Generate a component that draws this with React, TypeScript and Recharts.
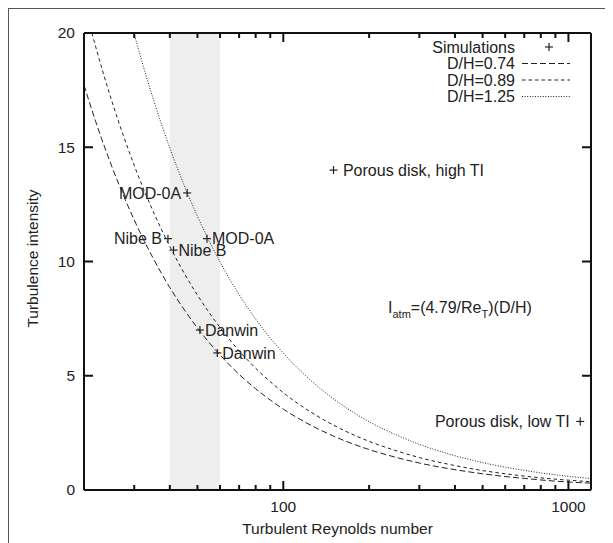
import React from 'react';
import { ComposedChart, Line, Scatter, XAxis, YAxis, ReferenceArea } from 'recharts';

// Axis ticks
const reTicks = [20, 30, 40, 50, 60, 70, 80, 90, 100, 200, 300, 400, 500, 600, 700, 800, 900, 1000];
const reMajor = [100, 1000];
const tiTicks = [0, 5, 10, 15, 20];
const reDomain = [20, 1200];
const tiDomain = [0, 20];

// Shaded Reynolds-number band
const bandRe = [40, 60];

// I_atm = (4.79/Re_T)(D/H), in percent
const curve074 = [
  { re: 20, ti: 17.72 }, { re: 22, ti: 16.11 }, { re: 25, ti: 14.18 }, { re: 30, ti: 11.82 },
  { re: 35, ti: 10.13 }, { re: 40, ti: 8.86 }, { re: 45, ti: 7.88 }, { re: 50, ti: 7.09 },
  { re: 60, ti: 5.91 }, { re: 70, ti: 5.06 }, { re: 80, ti: 4.43 }, { re: 90, ti: 3.94 },
  { re: 100, ti: 3.54 }, { re: 120, ti: 2.95 }, { re: 150, ti: 2.36 }, { re: 200, ti: 1.77 },
  { re: 250, ti: 1.42 }, { re: 300, ti: 1.18 }, { re: 400, ti: 0.89 }, { re: 500, ti: 0.71 },
  { re: 600, ti: 0.59 }, { re: 700, ti: 0.51 }, { re: 800, ti: 0.44 }, { re: 1000, ti: 0.35 },
  { re: 1200, ti: 0.3 },
];

const curve089 = [
  { re: 21.32, ti: 20.0 }, { re: 22, ti: 19.38 }, { re: 25, ti: 17.05 }, { re: 30, ti: 14.21 },
  { re: 35, ti: 12.18 }, { re: 40, ti: 10.66 }, { re: 45, ti: 9.47 }, { re: 50, ti: 8.53 },
  { re: 60, ti: 7.11 }, { re: 70, ti: 6.09 }, { re: 80, ti: 5.33 }, { re: 90, ti: 4.74 },
  { re: 100, ti: 4.26 }, { re: 120, ti: 3.55 }, { re: 150, ti: 2.84 }, { re: 200, ti: 2.13 },
  { re: 250, ti: 1.71 }, { re: 300, ti: 1.42 }, { re: 400, ti: 1.07 }, { re: 500, ti: 0.85 },
  { re: 600, ti: 0.71 }, { re: 700, ti: 0.61 }, { re: 800, ti: 0.53 }, { re: 1000, ti: 0.43 },
  { re: 1200, ti: 0.36 },
];

const curve125 = [
  { re: 29.94, ti: 20.0 }, { re: 32, ti: 18.71 }, { re: 35, ti: 17.11 }, { re: 40, ti: 14.97 },
  { re: 45, ti: 13.31 }, { re: 50, ti: 11.98 }, { re: 60, ti: 9.98 }, { re: 70, ti: 8.55 },
  { re: 80, ti: 7.48 }, { re: 90, ti: 6.65 }, { re: 100, ti: 5.99 }, { re: 120, ti: 4.99 },
  { re: 150, ti: 3.99 }, { re: 200, ti: 2.99 }, { re: 250, ti: 2.4 }, { re: 300, ti: 2.0 },
  { re: 400, ti: 1.5 }, { re: 500, ti: 1.2 }, { re: 600, ti: 1.0 }, { re: 700, ti: 0.86 },
  { re: 800, ti: 0.75 }, { re: 1000, ti: 0.6 }, { re: 1200, ti: 0.5 },
];

// Simulated cases
const simulations = [
  { re: 46, ti: 13, label: 'MOD-0A', side: 'left' },
  { re: 39.4, ti: 11, label: 'Nibe B', side: 'left' },
  { re: 54, ti: 11, label: 'MOD-0A', side: 'right' },
  { re: 41.2, ti: 10.5, label: 'Nibe B', side: 'right' },
  { re: 51, ti: 7, label: 'Danwin', side: 'right' },
  { re: 58.7, ti: 6, label: 'Danwin', side: 'right' },
  { re: 150, ti: 14, label: ' Porous disk, high TI', side: 'right' },
  { re: 1100, ti: 3, label: 'Porous disk, low TI ', side: 'left' },
];

const INK = '#222';
const FONT = '"Liberation Sans", Arial, Helvetica, sans-serif';
const MAJOR = 9;
const MINOR = 5;

const curves = [
  { name: 'D/H=0.74', data: curve074, dash: '6 3' },
  { name: 'D/H=0.89', data: curve089, dash: '3.5 3' },
  { name: 'D/H=1.25', data: curve125, dash: '1 1.6' },
];

// Inward tick marks on all four sides of the frame, placed through the axis scales
const tickRows = [
  { id: 'bottom', data: reTicks.map((re) => ({ re, ti: tiDomain[0], major: reMajor.includes(re) })), ux: 0, uy: -1 },
  { id: 'top', data: reTicks.map((re) => ({ re, ti: tiDomain[1], major: reMajor.includes(re) })), ux: 0, uy: 1 },
  { id: 'left', data: tiTicks.map((ti) => ({ re: reDomain[0], ti, major: true })), ux: 1, uy: 0 },
  { id: 'right', data: tiTicks.map((ti) => ({ re: reDomain[1], ti, major: true })), ux: -1, uy: 0 },
];

function TickMark(props: any) {
  const { cx, cy, payload, ux, uy } = props;
  if (cx == null || cy == null) return null;
  const len = payload.major ? MAJOR : MINOR;
  return (
    <g>
      <line x1={cx} y1={cy} x2={cx + ux * len} y2={cy + uy * len} stroke="#111" strokeWidth={2} />
    </g>
  );
}

function ReLabel(props: any) {
  const { x, y, payload } = props;
  return (
    <text x={x} y={y + 17} dy="0.35em" textAnchor="middle" fontSize={15.5} fill={INK} stroke="none" fontFamily={FONT}>
      {payload.value}
    </text>
  );
}

function TiLabel(props: any) {
  const { x, y, payload } = props;
  return (
    <text x={x - 9} y={y} dy="0.35em" textAnchor="end" fontSize={15.5} fill={INK} stroke="none" fontFamily={FONT}>
      {payload.value}
    </text>
  );
}

function SimMark(props: any) {
  const { cx, cy, payload } = props;
  if (cx == null || cy == null) return null;
  const h = 4;
  const right = payload.side === 'right';
  return (
    <g>
      <line x1={cx - h} x2={cx + h} y1={cy} y2={cy} stroke={INK} strokeWidth={1.2} />
      <line x1={cx} x2={cx} y1={cy - h} y2={cy + h} stroke={INK} strokeWidth={1.2} />
      <text
        x={right ? cx + 5 : cx - 6}
        y={cy}
        dy="0.35em"
        textAnchor={right ? 'start' : 'end'}
        fontSize={16}
        fill={INK}
        fontFamily={FONT}
        style={{ whiteSpace: 'pre' }}
      >
        {payload.label}
      </text>
    </g>
  );
}

function XTitle(props: any) {
  const vb = props.viewBox || {};
  return (
    <text x={vb.x + vb.width / 2} y={vb.y + 39} dy="0.35em" textAnchor="middle" fontSize={15.5} fill={INK} fontFamily={FONT}>
      Turbulent Reynolds number
    </text>
  );
}

function YTitle(props: any) {
  const vb = props.viewBox || {};
  const cx = vb.x + vb.width - 51;
  const cy = vb.y + vb.height / 2 - 3;
  return (
    <text
      x={cx}
      y={cy}
      dy="0.35em"
      textAnchor="middle"
      transform={`rotate(-90 ${cx} ${cy})`}
      fontSize={15.5}
      fill={INK}
      fontFamily={FONT}
    >
      Turbulence intensity
    </text>
  );
}

const W = 604;
const H = 534;

export default function App() {
  const axisLine = { stroke: '#111', strokeWidth: 2 };
  const logAxis = {
    dataKey: 're',
    type: 'number' as const,
    scale: 'log' as const,
    domain: reDomain,
    allowDataOverflow: true,
    ticks: reMajor,
    interval: 0,
    height: 1,
    tickSize: 0,
    tickMargin: 0,
    tickLine: false,
    axisLine,
  };
  const linAxis = {
    type: 'number' as const,
    domain: tiDomain,
    allowDataOverflow: true,
    ticks: tiTicks,
    interval: 0,
    width: 1,
    tickSize: 0,
    tickMargin: 0,
    tickLine: false,
    axisLine,
  };
  return (
    <div
      style={{
        position: 'relative',
        width: W,
        height: H,
        borderLeft: '1px solid #555',
        borderTop: '1px solid #555',
        background: '#fff',
      }}
    >
      <ComposedChart width={W} height={H} margin={{ top: 23, right: 21, bottom: 52, left: 74 }}>
        <XAxis xAxisId="b" {...logAxis} tick={(p: any) => <ReLabel {...p} />} label={<XTitle />} />
        <XAxis xAxisId="t" orientation="top" {...logAxis} tick={false} />
        <YAxis yAxisId="l" {...linAxis} tick={(p: any) => <TiLabel {...p} />} label={<YTitle />} />
        <YAxis yAxisId="r" orientation="right" {...linAxis} tick={false} />
        <ReferenceArea
          xAxisId="b"
          yAxisId="l"
          x1={bandRe[0]}
          x2={bandRe[1]}
          y1={tiDomain[0]}
          y2={tiDomain[1]}
          fill="#eeeeee"
          fillOpacity={1}
          stroke="none"
        />
        {curves.map((c) => (
          <Line
            key={c.name}
            xAxisId="b"
            yAxisId="l"
            data={c.data}
            dataKey="ti"
            name={c.name}
            type="monotone"
            stroke={INK}
            strokeWidth={1}
            strokeDasharray={c.dash}
            dot={false}
            activeDot={false}
            isAnimationActive={false}
          />
        ))}
        {tickRows.map((row) => (
          <Scatter
            key={row.id}
            xAxisId="b"
            yAxisId="l"
            data={row.data}
            dataKey="ti"
            legendType="none"
            shape={(p: any) => <TickMark {...p} ux={row.ux} uy={row.uy} />}
            isAnimationActive={false}
          />
        ))}
        <Scatter
          xAxisId="b"
          yAxisId="l"
          data={simulations}
          dataKey="ti"
          name="Simulations"
          shape={(p: any) => <SimMark {...p} />}
          isAnimationActive={false}
        />
      </ComposedChart>
      <svg
        width={W}
        height={H}
        style={{ position: 'absolute', left: 0, top: 0, pointerEvents: 'none' }}
        fontFamily={FONT}
      >
        {/* legend */}
        <g fontSize={16} fill={INK}>
          <text x={506} y={38} dy="0.35em" textAnchor="end">Simulations</text>
          <line x1={536} x2={544} y1={38} y2={38} stroke={INK} strokeWidth={1.2} />
          <line x1={540} x2={540} y1={34} y2={42} stroke={INK} strokeWidth={1.2} />
          {curves.map((c, i) => {
            const y = 54.5 + i * 16.5;
            return (
              <g key={c.name}>
                <text x={506} y={y} dy="0.35em" textAnchor="end">{c.name}</text>
                <line x1={513} x2={561} y1={y} y2={y} stroke={INK} strokeWidth={1} strokeDasharray={c.dash} />
              </g>
            );
          })}
        </g>
        {/* fit relation */}
        <text x={379} y={298} dy="0.35em" fontSize={16} fill={INK}>
          I<tspan fontSize={11} dy={5}>atm</tspan>
          <tspan dy={-5}>=(4.79/Re</tspan>
          <tspan fontSize={11} dy={5}>T</tspan>
          <tspan dy={-5}>)(D/H)</tspan>
        </text>
      </svg>
    </div>
  );
}
